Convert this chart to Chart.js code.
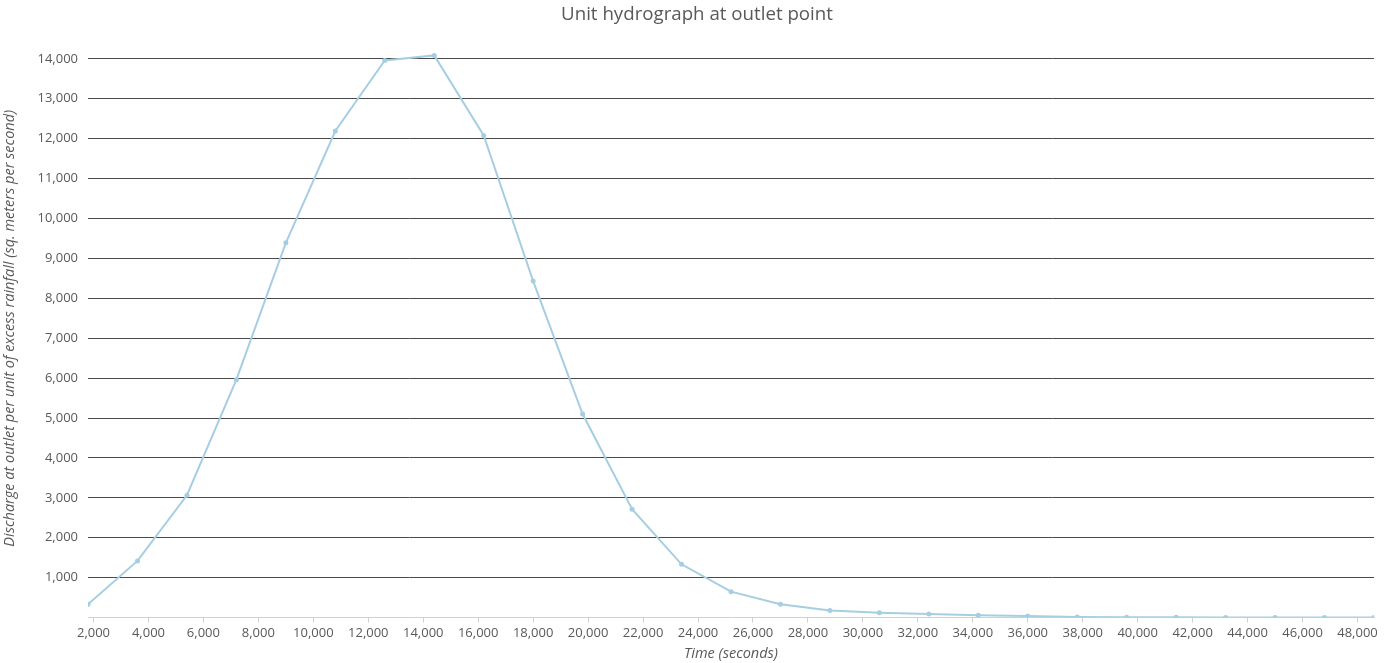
<!DOCTYPE html>
<html>
<head>
<meta charset="utf-8">
<script src="https://cdn.jsdelivr.net/npm/chart.js@4"></script>
<style>
  html, body { margin: 0; padding: 0; background: #fff; }
  #wrap { width: 1394px; height: 663px; }
</style>
</head>
<body>
<div id="wrap"><canvas id="chart"></canvas></div>
<script>
const timeSeconds = [
  1800, 3600, 5400, 7200, 9000, 10800, 12600, 14400, 16200, 18000,
  19800, 21600, 23400, 25200, 27000, 28800, 30600, 32400, 34200, 36000,
  37800, 39600, 41400, 43200, 45000, 46800, 48600,
];
const discharge = [
  335, 1420, 3065, 5960, 9390, 12190, 13960, 14085, 12080, 8430,
  5100, 2715, 1335, 650, 335, 175, 123, 90, 60, 42,
  18, 10, 6, 4, 3, 2, 1,
];
const xTickValues = [
  2000, 4000, 6000, 8000, 10000, 12000, 14000, 16000, 18000, 20000, 22000, 24000,
  26000, 28000, 30000, 32000, 34000, 36000, 38000, 40000, 42000, 44000, 46000, 48000,
];
const yTickValues = [1000, 2000, 3000, 4000, 5000, 6000, 7000, 8000, 9000, 10000, 11000, 12000, 13000, 14000];

const textGrey = "#595959";
const lineBlue = "#a6cee3";
const fam = "'Open Sans', 'Noto Sans', sans-serif";

const points = timeSeconds.map((t, i) => ({ x: t, y: discharge[i] }));
const fmt = (v) => Number(v).toLocaleString("en-US");

new Chart(document.getElementById("chart"), {
  type: "line",
  data: {
    datasets: [{
      label: "Discharge",
      data: points,
      borderColor: lineBlue,
      backgroundColor: lineBlue,
      borderWidth: 2,
      pointRadius: 2.5,
      pointBorderWidth: 0,
      tension: 0,
    }],
  },
  options: {
    responsive: true,
    maintainAspectRatio: false,
    animation: false,
    // equal side padding keeps the title centred on the whole canvas
    layout: { padding: { left: 20, right: 20, top: 0, bottom: 0 } },
    plugins: {
      legend: { display: false },
      tooltip: { enabled: false },
      title: {
        display: true,
        text: "Unit hydrograph at outlet point",
        color: textGrey,
        font: { family: fam, size: 18.7, weight: "normal" },
        padding: { top: 3, bottom: 13.4 },
      },
    },
    scales: {
      x: {
        type: "linear",
        min: 1800,
        max: 48600,
        afterBuildTicks: (s) => { s.ticks = xTickValues.map((v) => ({ value: v })); },
        afterFit: (s) => { s.height = 45.4; },
        ticks: { color: textGrey, font: { family: fam, size: 13 }, padding: 3, maxRotation: 0, autoSkip: false, callback: (v) => fmt(v) },
        grid: { drawOnChartArea: false, drawTicks: true, tickLength: 5, color: "#d0d0d0" },
        border: { display: true, color: "#d0d0d0", width: 1 },
        title: { display: true, text: "Time (seconds)", color: textGrey, font: { family: fam, size: 14.5, style: "italic" }, padding: { top: 0, bottom: 0 } },
      },
      y: {
        min: 0,
        max: 14500,
        afterBuildTicks: (s) => { s.ticks = yTickValues.map((v) => ({ value: v })); },
        afterFit: (s) => { s.width = 68; },
        ticks: { color: textGrey, font: { family: fam, size: 13 }, padding: 10, callback: (v) => fmt(v) },
        grid: { color: "#4a4a4a", lineWidth: 1, drawTicks: false },
        border: { display: false },
        // pulled left into the layout padding
        title: { display: true, text: "Discharge at outlet per unit of excess rainfall (sq. meters per second)", color: textGrey, font: { family: fam, size: 14.5, style: "italic" }, padding: { top: -19, bottom: 0 } },
      },
    },
  },
});
</script>
</body>
</html>
